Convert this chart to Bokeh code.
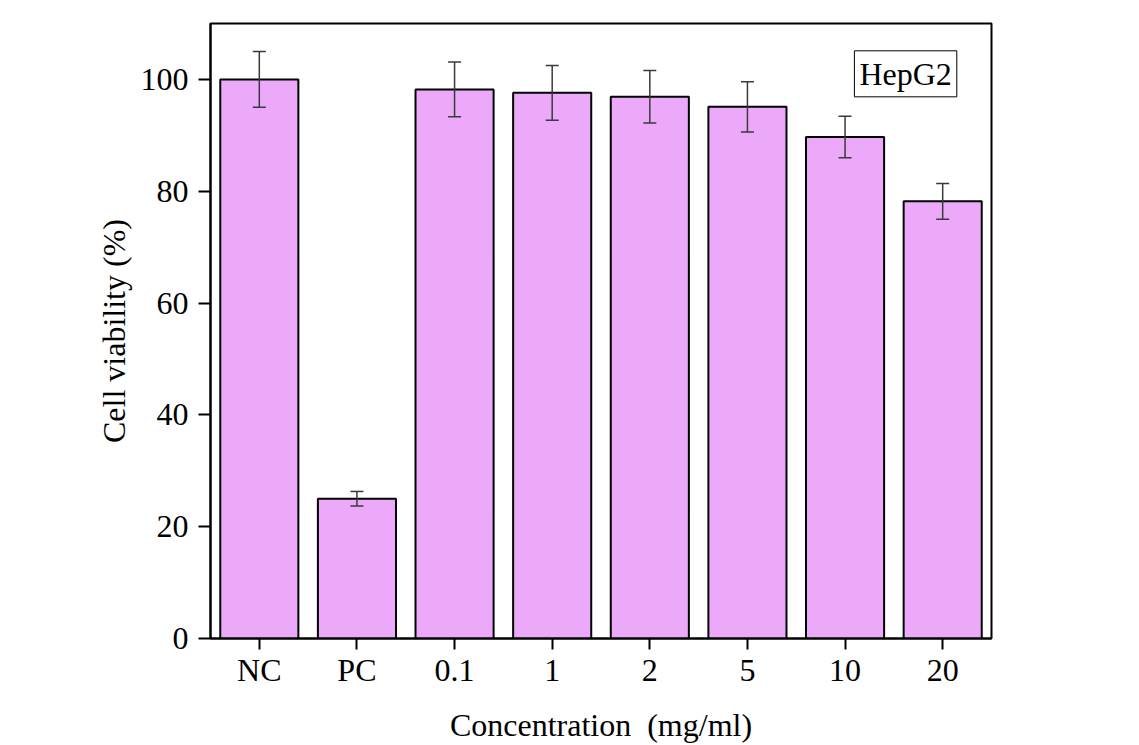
from bokeh.plotting import figure
from bokeh.models import ColumnDataSource, Whisker, TeeHead, Label, FactorRange, FixedTicker
from bokeh.embed import file_html
from bokeh.resources import INLINE

categories = ["NC", "PC", "0.1", "1", "2", "5", "10", "20"]
viability = [100.0, 25.0, 98.2, 97.6, 96.9, 95.1, 89.7, 78.2]
errors = [5.0, 1.3, 4.9, 4.9, 4.7, 4.5, 3.7, 3.2]
y_ticks = [0, 20, 40, 60, 80, 100]

upper = [v + e for v, e in zip(viability, errors)]
lower = [v - e for v, e in zip(viability, errors)]
src = ColumnDataSource(dict(cat=categories, val=viability, upper=upper, lower=lower))

FONT = "Liberation Serif"
FS = "32px"

p = figure(x_range=FactorRange(*categories, range_padding=0), y_range=(0, 110),
           width=1139, height=745, output_backend="svg", toolbar_location=None,
           min_border_left=210, min_border_right=148, min_border_top=23, min_border_bottom=107)
p.background_fill_color = "white"
p.border_fill_color = "white"
p.grid.visible = False
p.outline_line_color = "black"
p.outline_line_width = 2

p.vbar(x="cat", top="val", width=0.8, bottom=0, source=src,
       fill_color="#ECA9FA", line_color="black", line_width=2)

w = Whisker(base="cat", upper="upper", lower="lower", source=src,
            line_color="#3a3a3a", line_width=1.5, level="overlay",
            upper_head=TeeHead(size=13, line_color="#3a3a3a", line_width=1.5),
            lower_head=TeeHead(size=13, line_color="#3a3a3a", line_width=1.5))
p.add_layout(w)

for ax in (p.xaxis[0], p.yaxis[0]):
    ax.axis_line_width = 2
    ax.axis_line_color = "black"
    ax.major_tick_line_width = 2
    ax.major_tick_line_color = "black"
    ax.major_tick_in = 0
    ax.minor_tick_line_color = None
    ax.major_label_text_font = FONT
    ax.major_label_text_font_size = FS
    ax.major_label_text_color = "black"
    ax.axis_label_text_font = FONT
    ax.axis_label_text_font_size = FS
    ax.axis_label_text_font_style = "normal"
    ax.axis_label_text_color = "black"

p.yaxis[0].ticker = FixedTicker(ticks=y_ticks)
p.yaxis[0].major_tick_out = 12
p.yaxis[0].major_label_standoff = 10
p.yaxis[0].axis_label = "Cell viability (%)"
p.yaxis[0].axis_label_standoff = 6

p.xaxis[0].major_tick_out = 11
p.xaxis[0].major_label_standoff = 2
p.xaxis[0].axis_label = "Concentration\u00a0\u00a0(mg/ml)"
p.xaxis[0].axis_label_standoff = 16

lab = Label(x=7.12, y=101, text="HepG2", text_align="center", text_baseline="middle",
            text_font=FONT, text_font_size=FS, text_color="black",
            border_line_color="black", border_line_width=1,
            background_fill_color="white", padding=5)
p.add_layout(lab)

open("out.html", "w").write(file_html(p, INLINE))
